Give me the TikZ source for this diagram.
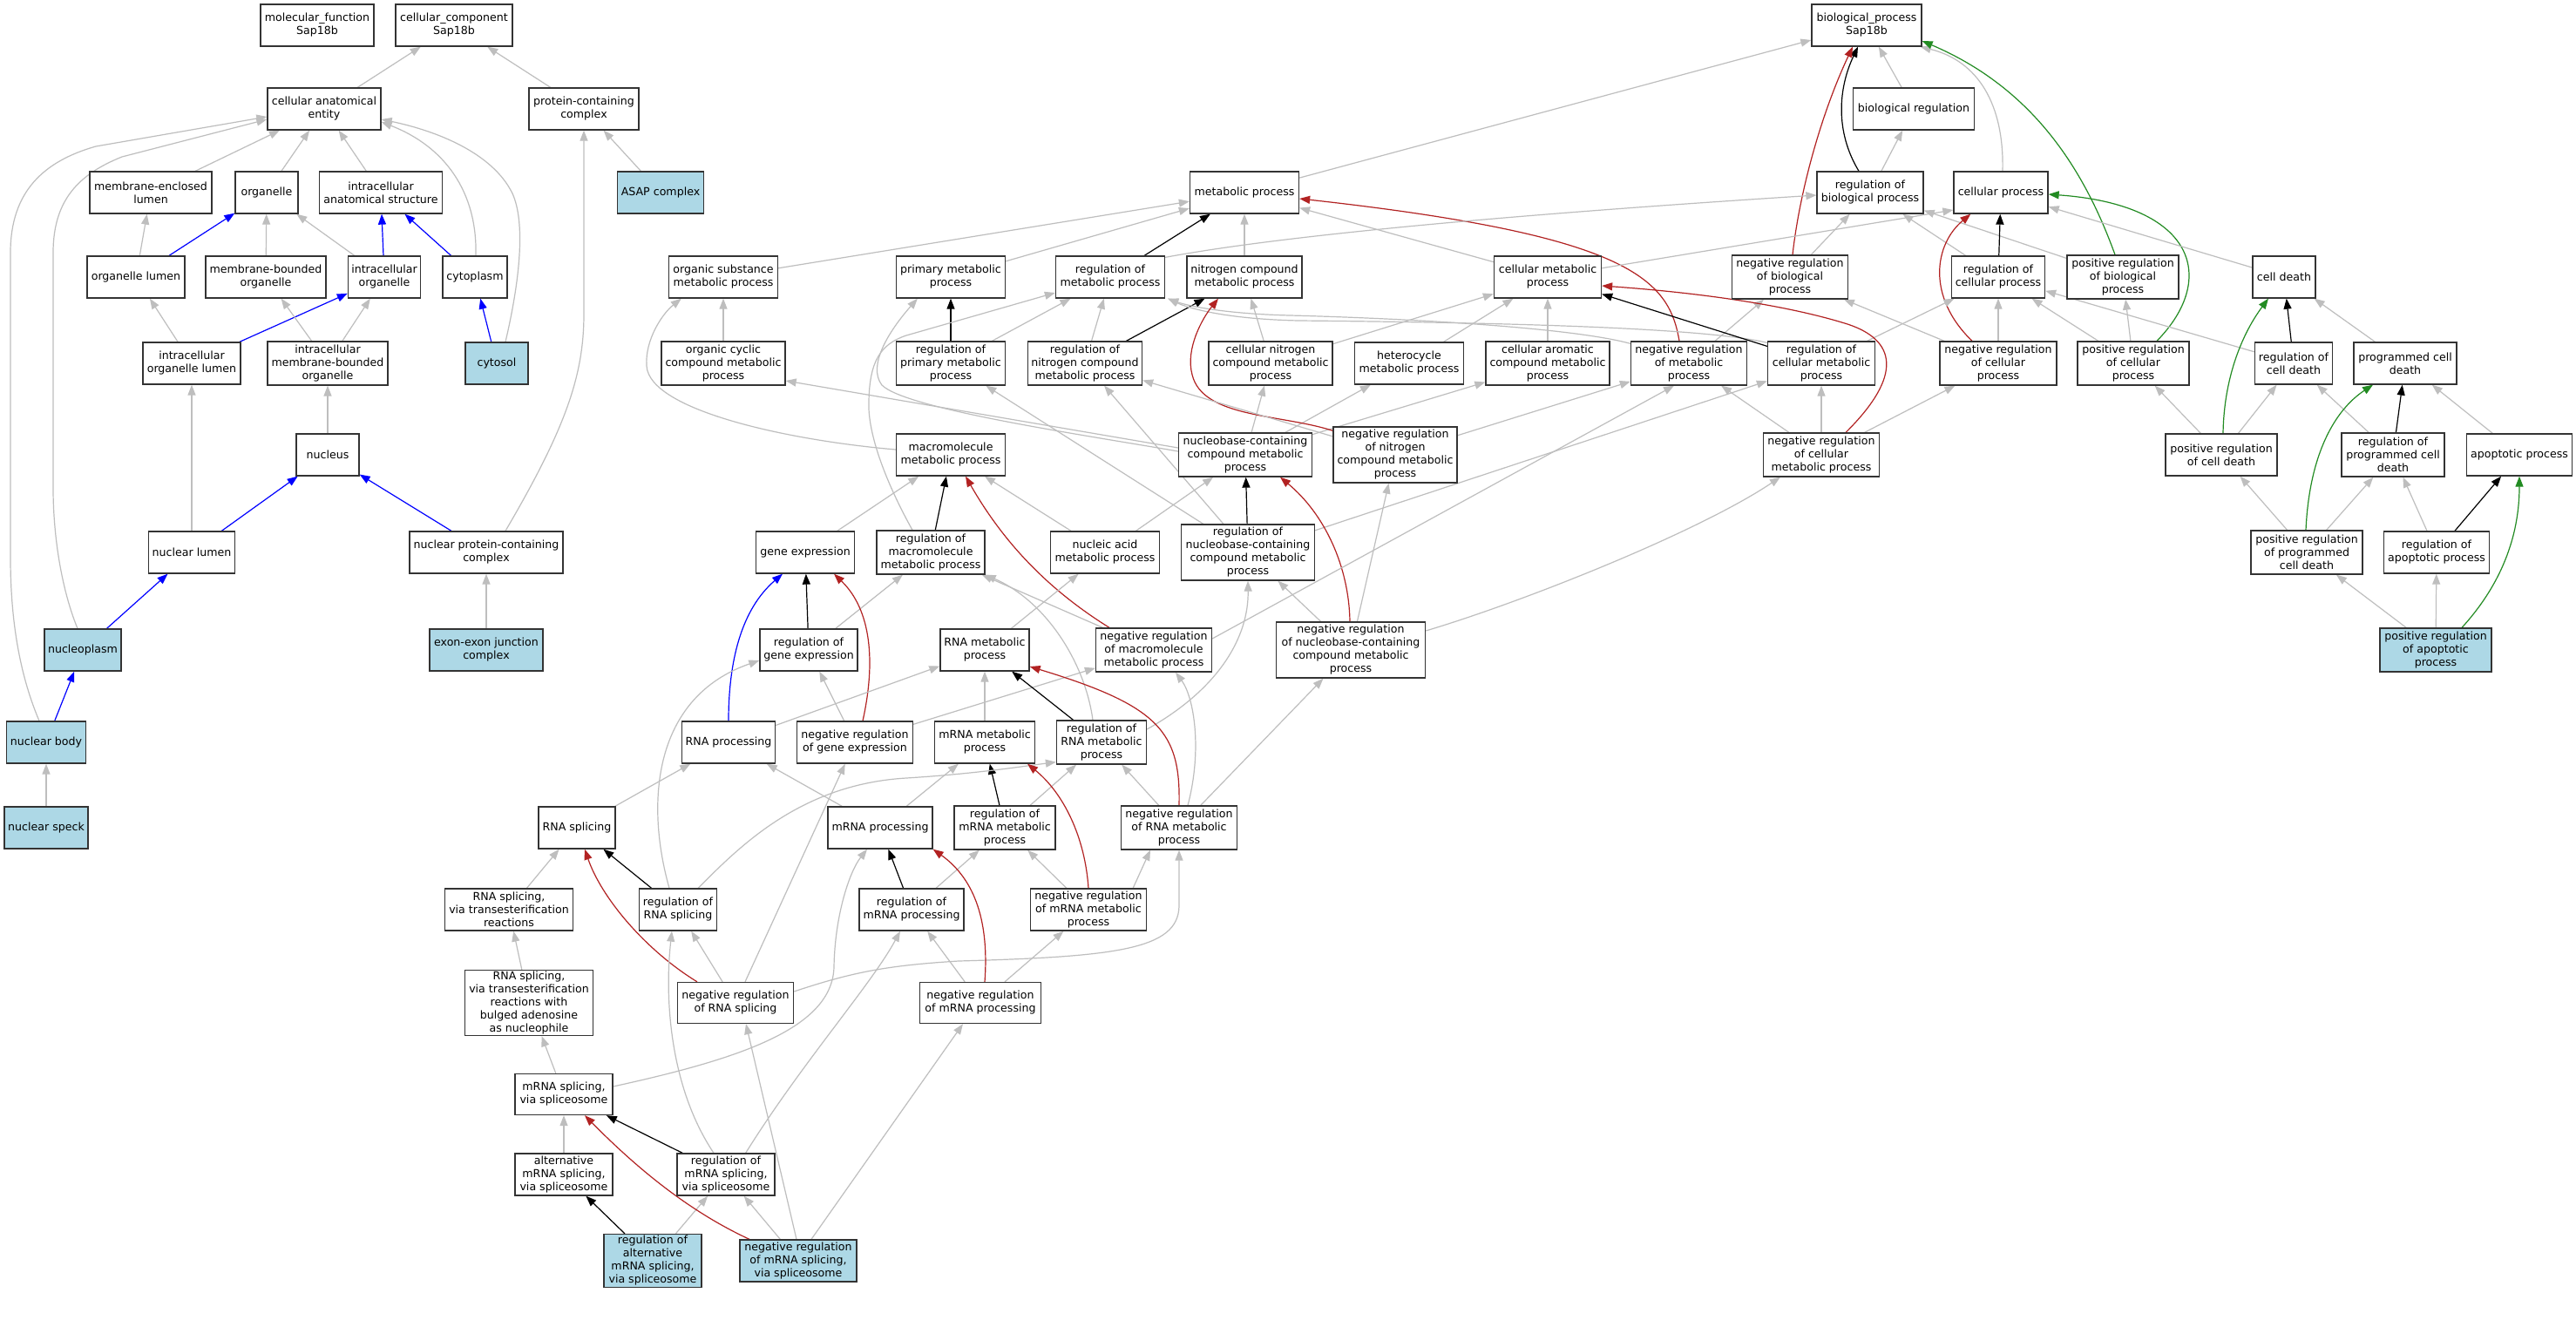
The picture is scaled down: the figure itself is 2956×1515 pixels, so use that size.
\documentclass[tikz,border=0pt]{standalone}
\usepackage{fontspec}
\setmainfont{DejaVu Sans}
\usetikzlibrary{arrows.meta,calc}
\pgfdeclarelayer{edgelayer}
\pgfsetlayers{edgelayer,main}
\definecolor{eggray}{RGB}{190,190,190}
\definecolor{lbfill}{RGB}{173,216,230}
\definecolor{fbred}{RGB}{178,34,34}
\definecolor{fggreen}{RGB}{34,139,34}
\newcommand\gofont{\fontsize{12.6}{15}\selectfont}
\newcommand\gn[7][]{\node[gobox,#1,minimum width=#5pt,minimum height=#6pt] (#2) at (#3,#4) {#7};}
\tikzset{
 gobox/.style={draw=black!80, line width=1.3pt, fill=white, align=center, inner sep=0pt, font=\gofont},
 hl/.style={fill=lbfill},
 edg/.style={line width=1.2pt, -{Triangle[length=12pt,width=9pt]}},
 eg/.style={edg, draw=eggray},
 ek/.style={edg, draw=black},
 eb/.style={edg, draw=blue},
 er/.style={edg, draw=fbred},
 egn/.style={edg, draw=fggreen}
}
\begin{document}
\begin{tikzpicture}[x=1pt,y=-1pt]
\useasboundingbox (0,0) rectangle (2956,1515);
% ---------- cellular component ----------
\gn{mf}{364}{29}{130}{48}{molecular\_function\\Sap18b}
\gn{cc}{521}{29}{134}{48}{cellular\_component\\Sap18b}
\gn{cae}{372}{125}{130}{48}{cellular anatomical\\entity}
\gn{pcc}{670}{125}{126}{48}{protein-containing\\complex}
\gn[hl]{asap}{758}{221}{99}{48}{ASAP complex}
\gn{mel}{173}{221}{140}{48}{membrane-enclosed\\lumen}
\gn{org}{306}{221}{72}{48}{organelle}
\gn{ias}{437}{221}{141}{48}{intracellular\\anatomical structure}
\gn{ol}{156}{318}{112}{48}{organelle lumen}
\gn{mbo}{305}{318}{138}{48}{membrane-bounded\\organelle}
\gn{io}{441}{318}{83}{48}{intracellular\\organelle}
\gn{cyto}{545}{318}{74}{48}{cytoplasm}
\gn{iol}{220}{417}{112}{48}{intracellular\\organelle lumen}
\gn{imbo}{376}{417}{138}{50}{intracellular\\membrane-bounded\\organelle}
\gn[hl]{cytosol}{570}{417}{72}{48}{cytosol}
\gn{nuc}{376}{522}{72}{48}{nucleus}
\gn{nl}{220}{634}{99}{48}{nuclear lumen}
\gn{npcc}{558}{634}{176}{48}{nuclear protein-containing\\complex}
\gn[hl]{np}{95}{746}{88}{48}{nucleoplasm}
\gn[hl]{ejc}{558}{746}{130}{48}{exon-exon junction\\complex}
\gn[hl]{nb}{53}{852}{91}{48}{nuclear body}
\gn[hl]{ns}{53}{950}{96}{48}{nuclear speck}
% ---------- biological process ----------
\gn{bp}{2142}{29}{126}{48}{biological\_process\\Sap18b}
\gn{breg}{2196}{125}{139}{48}{biological regulation}
\gn{rbp}{2146}{221}{122}{48}{regulation of\\biological process}
\gn{cp}{2296}{221}{108}{48}{cellular process}
\gn{mp}{1428}{221}{125}{48}{metabolic process}
\gn{osmp}{830}{318}{125}{48}{organic substance\\metabolic process}
\gn{pmp}{1091}{318}{125}{48}{primary metabolic\\process}
\gn{rmp}{1274}{318}{125}{48}{regulation of\\metabolic process}
\gn{ncmp}{1428}{318}{132}{48}{nitrogen compound\\metabolic process}
\gn{cmp}{1776}{318}{123}{48}{cellular metabolic\\process}
\gn{nrbp}{2054}{318}{133}{50}{negative regulation\\of biological\\process}
\gn{rcp}{2293}{318}{107}{48}{regulation of\\cellular process}
\gn{prbp}{2436}{318}{128}{50}{positive regulation\\of biological\\process}
\gn{cd}{2621}{318}{72}{48}{cell death}
\gn{occmp}{830}{417}{142}{50}{organic cyclic\\compound metabolic\\process}
\gn{rpmp}{1091}{417}{125}{50}{regulation of\\primary metabolic\\process}
\gn{rncmp}{1245}{417}{131}{50}{regulation of\\nitrogen compound\\metabolic process}
\gn{cncmp}{1458}{417}{142}{50}{cellular nitrogen\\compound metabolic\\process}
\gn{hmp}{1617}{417}{125}{48}{heterocycle\\metabolic process}
\gn{camp}{1776}{417}{142}{50}{cellular aromatic\\compound metabolic\\process}
\gn{nrmp}{1938}{417}{133}{50}{negative regulation\\of metabolic\\process}
\gn{rcmp}{2090}{417}{123}{50}{regulation of\\cellular metabolic\\process}
\gn{nrcp}{2293}{417}{134}{50}{negative regulation\\of cellular\\process}
\gn{prcp}{2448}{417}{128}{50}{positive regulation\\of cellular\\process}
\gn{rcd}{2632}{417}{89}{48}{regulation of\\cell death}
\gn{pcd}{2760}{417}{118}{48}{programmed cell\\death}
\gn{mmp}{1091}{522}{125}{48}{macromolecule\\metabolic process}
\gn{nbcmp}{1429}{522}{153}{50}{nucleobase-containing\\compound metabolic\\process}
\gn{nrncmp}{1601}{522}{142}{64}{negative regulation\\of nitrogen\\compound metabolic\\process}
\gn{nrcmp}{2090}{522}{133}{50}{negative regulation\\of cellular\\metabolic process}
\gn{prcd}{2549}{522}{128}{48}{positive regulation\\of cell death}
\gn{rpcd}{2746}{522}{118}{50}{regulation of\\programmed cell\\death}
\gn{ap}{2891}{522}{121}{48}{apoptotic process}
\gn{ge}{924}{634}{113}{48}{gene expression}
\gn{rmmp}{1068}{634}{124}{50}{regulation of\\macromolecule\\metabolic process}
\gn{nam}{1268}{634}{125}{48}{nucleic acid\\metabolic process}
\gn{rnbcmp}{1432}{634}{153}{64}{regulation of\\nucleobase-containing\\compound metabolic\\process}
\gn{prpcd}{2647}{634}{128}{50}{positive regulation\\of programmed\\cell death}
\gn{rap}{2796}{634}{121}{48}{regulation of\\apoptotic process}
\gn{rge}{928}{746}{112}{48}{regulation of\\gene expression}
\gn{rnamp}{1130}{746}{102}{48}{RNA metabolic\\process}
\gn{nrmmp}{1324}{746}{133}{50}{negative regulation\\of macromolecule\\metabolic process}
\gn{nrnbcmp}{1550}{746}{171}{64}{negative regulation\\of nucleobase-containing\\compound metabolic\\process}
\gn[hl]{prap}{2795}{746}{128}{50}{positive regulation\\of apoptotic\\process}
\gn{rnap}{836}{852}{107}{48}{RNA processing}
\gn{nrge}{981}{852}{133}{48}{negative regulation\\of gene expression}
\gn{mrnamp}{1130}{852}{115}{48}{mRNA metabolic\\process}
\gn{rrnamp}{1264}{852}{103}{50}{regulation of\\RNA metabolic\\process}
\gn{rs}{662}{950}{88}{48}{RNA splicing}
\gn{mrnap}{1010}{950}{120}{48}{mRNA processing}
\gn{rmrnamp}{1153}{950}{116}{50}{regulation of\\mRNA metabolic\\process}
\gn{nrrnamp}{1353}{950}{133}{50}{negative regulation\\of RNA metabolic\\process}
\gn{rsvt}{584}{1044}{147}{48}{RNA splicing,\\via transesterification\\reactions}
\gn{rrs}{778}{1044}{89}{48}{regulation of\\RNA splicing}
\gn{rmrnap}{1046}{1044}{120}{48}{regulation of\\mRNA processing}
\gn{nrmrnamp}{1249}{1044}{133}{48}{negative regulation\\of mRNA metabolic\\process}
\gn{rsvtb}{607}{1151}{147}{75}{RNA splicing,\\via transesterification\\reactions with\\bulged adenosine\\as nucleophile}
\gn{nrrs}{844}{1151}{133}{47}{negative regulation\\of RNA splicing}
\gn{nrmrnap}{1125}{1151}{139}{47}{negative regulation\\of mRNA processing}
\gn{msvs}{647}{1256}{112}{47}{mRNA splicing,\\via spliceosome}
\gn{amsvs}{647}{1348}{112}{48}{alternative\\mRNA splicing,\\via spliceosome}
\gn{rmsvs}{833}{1348}{112}{48}{regulation of\\mRNA splicing,\\via spliceosome}
\gn[hl]{ramsvs}{749}{1447}{112}{61}{regulation of\\alternative\\mRNA splicing,\\via spliceosome}
\gn[hl]{nrmsvs}{916}{1447}{134}{48}{negative regulation\\of mRNA splicing,\\via spliceosome}

\begin{pgfonlayer}{edgelayer}
\fill[white] (0,0) rectangle (2956,1515);
% ================= edges: cellular component =================
\draw[eg] (cae) -- (cc);
\draw[eg] (pcc) -- (cc);
\draw[eg] (asap) -- (pcc);
\draw[eg] (mel) -- (cae);
\draw[eg] (org) -- (cae);
\draw[eg] (ias) -- (cae);
\draw[eg] ($(cyto.north)+(1,0)$) .. controls (548,220) and (510,168) .. ($(cae.east)+(0,15)$);
\draw[eg] ($(cytosol.north)+(10,0)$) .. controls (597,320) and (603,255) .. (588,222) .. controls (565,175) and (500,150) .. ($(cae.east)+(0,12)$);
\draw[eg] ($(np.north)+(-6,0)$) .. controls (72,680) and (61,620) .. (61,560) -- (61,290) .. controls (61,230) and (90,200) .. (140,180) -- ($(cae.west)+(0,12)$);
\draw[eg] ($(nb.north)+(-8,0)$) .. controls (25,780) and (12,720) .. (12,640) -- (12,290) .. controls (12,220) and (50,185) .. (110,168) -- ($(cae.west)+(0,9)$);
\draw[eg] (ol) -- (mel);
\draw[eb] (ol) -- (org);
\draw[eg] (mbo) -- (org);
\draw[eg] (io) -- (org);
\draw[eb] (io) -- (ias);
\draw[eb] (cyto) -- (ias);
\draw[eg] (iol) -- (ol);
\draw[eb] (iol) -- (io);
\draw[eg] (imbo) -- (mbo);
\draw[eg] (imbo) -- (io);
\draw[eb] (cytosol) -- (cyto);
\draw[eg] (nuc) -- (imbo);
\draw[eg] (nl) -- (iol);
\draw[eb] (nl) -- (nuc);
\draw[eb] (npcc) -- (nuc);
\draw[eg] ($(npcc.north)+(22,0)$) .. controls (650,490) and (670,430) .. (670,360) -- (pcc.south);
\draw[eg] (ejc) -- (npcc);
\draw[eb] (np) -- (nl);
\draw[eb] (nb) -- (np);
\draw[eg] (ns) -- (nb);

% ================= edges: biological process top =================
\draw[eg] (mp) -- (bp);
\draw[eg] (breg) -- (bp);
\draw[ek] ($(rbp.north)+(-13,0)$) .. controls (2105,150) and (2110,100) .. ($(bp.south)+(-10,0)$);
\draw[eg] (rbp) -- (breg);
\draw[er] ($(nrbp.north)+(3,0)$) .. controls (2065,220) and (2090,130) .. ($(bp.south)+(-16,0)$);
\draw[eg] ($(cp.north)+(2,0)$) .. controls (2300,120) and (2270,70) .. ($(bp.south east)+(-2,0)$);
\draw[egn] ($(prbp.north)+(-9,0)$) .. controls (2390,190) and (2330,100) .. ($(bp.east)+(0,18)$);

\draw[eg] (osmp) -- (mp);
\draw[eg] (pmp) -- (mp);
\draw[ek] (rmp) -- (mp);
\draw[eg] (ncmp) -- (mp);
\draw[eg] (cmp) -- (mp);
\draw[er] ($(nrmp.north)+(-11,0)$) .. controls (1915,320) and (1870,270) .. ($(mp.east)+(0,7)$);
\draw[eg] ($(rmp.north east)+(0,2)$) .. controls (1420,280) and (1600,255) .. ($(rbp.west)+(0,3)$);
\draw[eg] (nrbp) -- (rbp);
\draw[eg] (rcp) -- (rbp);
\draw[eg] (prbp) -- (rbp);
\draw[eg] (cmp) -- ($(cp.west)+(0,20)$);
\draw[ek] (rcp) -- (cp);
\draw[er] ($(nrcp.north)+(-30,0)$) .. controls (2210,340) and (2220,280) .. ($(cp.south west)+(20,0)$);
\draw[egn] ($(prcp.north)+(27,0)$) .. controls (2545,320) and (2520,235) .. ($(cp.east)+(0,2)$);
\draw[eg] (cd) -- (cp);

% row 3
\draw[eg] (occmp) -- (osmp);
\draw[ek] (rpmp) -- (pmp);
\draw[eg] (rpmp) -- (rmp);
\draw[eg] (rncmp) -- (rmp);
\draw[ek] (rncmp) -- (ncmp);
\draw[eg] (cncmp) -- (ncmp);
\draw[eg] (cncmp) -- (cmp);
\draw[eg] (hmp) -- (cmp);
\draw[eg] (camp) -- (cmp);
\draw[eg] (nrmp) -- (nrbp);
\draw[eg] ($(nrmp.north west)+(0,3)$) .. controls (1800,375) and (1600,365) .. (1480,362) .. controls (1400,360) and (1360,350) .. ($(rmp.south east)+(3,0)$);
\draw[eg] ($(rcmp.north west)+(0,2)$) .. controls (1950,375) and (1700,370) .. (1490,368) .. controls (1400,366) and (1360,352) .. ($(rmp.south east)+(3,0)$);
\draw[ek] (rcmp) -- (cmp);
\draw[eg] (rcmp) -- (rcp);
\draw[eg] (nrcp) -- (rcp);
\draw[eg] (nrcp) -- (nrbp);
\draw[eg] (prcp) -- (rcp);
\draw[eg] (prcp) -- (prbp);
\draw[ek] (rcd) -- (cd);
\draw[eg] (rcd) -- (rcp);
\draw[eg] (pcd) -- (cd);

% row 4
\draw[eg] ($(mmp.west)+(0,-6)$) .. controls (900,505) and (745,470) .. (742,420) .. controls (740,390) and (760,360) .. ($(osmp.south west)+(15,0)$);
\draw[eg] ($(nbcmp.west)+(0,-8)$) -- ($(occmp.east)+(0,20)$);
\draw[eg] ($(nbcmp.west)+(0,-4)$) .. controls (1250,500) and (1040,470) .. (1012,442) .. controls (995,420) and (1020,380) .. ($(pmp.south west)+(25,0)$);
\draw[eg] (nbcmp) -- (cncmp);
\draw[eg] (nbcmp) -- (hmp);
\draw[eg] (nbcmp) -- (camp);
\draw[er] ($(nrncmp.north west)+(0,5)$) .. controls (1470,475) and (1380,480) .. (1368,430) .. controls (1360,400) and (1380,365) .. ($(ncmp.south)+(-30,0)$);
\draw[eg] (nrncmp) -- (rncmp);
\draw[eg] (nrncmp) -- (nrmp);
\draw[eg] (nrcmp) -- (nrmp);
\draw[eg] (nrcmp) -- (rcmp);
\draw[eg] (nrcmp) -- (nrcp);
\draw[er] ($(nrcmp.north)+(28,0)$) .. controls (2185,430) and (2175,390) .. (2120,372) .. controls (2050,350) and (1950,336) .. ($(cmp.east)+(0,10)$);
\draw[egn] ($(prcd.north)+(2,0)$) .. controls (2552,430) and (2575,380) .. ($(cd.south)+(-18,0)$);
\draw[eg] (prcd) -- (rcd);
\draw[eg] (prcd) -- (prcp);
\draw[ek] (rpcd) -- (pcd);
\draw[eg] (rpcd) -- (rcd);
\draw[eg] (ap) -- (pcd);

% row 5
\draw[eg] (ge) -- (mmp);
\draw[ek] (rmmp) -- (mmp);
\draw[eg] ($(rmmp.north)+(-21,0)$) .. controls (1020,560) and (995,500) .. (997,460) .. controls (998,415) and (1010,395) .. (1040,385) -- ($(rmp.west)+(0,18)$);
\draw[eg] (nam) -- (mmp);
\draw[eg] (nam) -- (nbcmp);
\draw[ek] (rnbcmp) -- (nbcmp);
\draw[eg] (rnbcmp) -- (rpmp);
\draw[eg] (rnbcmp) -- (rncmp);
\draw[eg] (rnbcmp) -- (rcmp);
\draw[egn] ($(prpcd.north)+(-1,0)$) .. controls (2650,520) and (2680,470) .. ($(pcd.south)+(-37,0)$);
\draw[eg] (prpcd) -- (prcd);
\draw[eg] (prpcd) -- (rpcd);
\draw[eg] (rap) -- (rpcd);
\draw[ek] (rap) -- (ap);

% row 6
\draw[er] ($(nrnbcmp.north)+(-1,0)$) .. controls (1548,650) and (1520,590) .. ($(nbcmp.south)+(40,0)$);
\draw[eg] (nrnbcmp) -- (rnbcmp);
\draw[eg] (nrnbcmp) -- (nrncmp);
\draw[eg] ($(nrnbcmp.east)+(0,-22)$) .. controls (1750,690) and (1950,610) .. ($(nrcmp.south west)+(20,0)$);
\draw[eg] (prap) -- (prpcd);
\draw[eg] (prap) -- (rap);
\draw[egn] ($(prap.north)+(30,0)$) .. controls (2880,660) and (2891,600) .. (ap.south);
\draw[ek] (rge) -- (ge);
\draw[eg] (rge) -- (rmmp);
\draw[eg] (nrmmp) -- (rmmp);
\draw[er] ($(nrmmp.north)+(-51,0)$) .. controls (1200,675) and (1150,620) .. ($(mmp.south)+(17,0)$);
\draw[eg] ($(nrmmp.east)+(0,-13)$) -- ($(nrmp.south)+(-17,0)$);
\draw[eg] (rnamp) -- (nam);

% row 7
\draw[eb] (rnap.north) .. controls (836,760) and (850,700) .. ($(ge.south)+(-26,0)$);
\draw[er] ($(nrge.north)+(9,0)$) .. controls (1005,760) and (1000,700) .. ($(ge.south)+(33,0)$);
\draw[eg] (nrge) -- (rge);
\draw[eg] (nrge) -- (nrmmp);
\draw[eg] (rnap) -- (rnamp);
\draw[eg] (mrnamp) -- (rnamp);
\draw[ek] (rrnamp) -- (rnamp);
\draw[eg] ($(rrnamp.north)+(-10,0)$) .. controls (1245,760) and (1200,690) .. (rmmp.south east);
\draw[eg] ($(rrnamp.east)+(0,-15)$) .. controls (1400,790) and (1433,730) .. (rnbcmp.south);

% row 8
\draw[er] (nrrnamp.north) .. controls (1355,840) and (1330,810) .. ($(rnamp.east)+(0,19)$);
\draw[eg] (nrrnamp) -- (rrnamp);
\draw[eg] ($(nrrnamp.north)+(10,0)$) .. controls (1380,860) and (1370,800) .. ($(nrmmp.south)+(25,0)$);
\draw[eg] (nrrnamp) -- (nrnbcmp);
\draw[eg] (rs) -- (rnap);
\draw[eg] (mrnap) -- (rnap);
\draw[eg] (mrnap) -- (mrnamp);
\draw[ek] (rmrnamp) -- (mrnamp);
\draw[eg] (rmrnamp) -- (rrnamp);

% row 9
\draw[eg] (rsvt) -- (rs);
\draw[ek] (rrs) -- (rs);
\draw[eg] ($(rrs.north)+(-10,0)$) .. controls (740,920) and (750,800) .. ($(rge.west)+(0,12)$);
\draw[eg] ($(rrs.north east)+(-22,0)$) .. controls (850,970) and (920,900) .. (1040,893) .. controls (1120,888) and (1170,880) .. ($(rrnamp.south west)+(0,-3)$);
\draw[ek] (rmrnap) -- (mrnap);
\draw[eg] (rmrnap) -- (rmrnamp);
\draw[eg] (nrmrnamp) -- (rmrnamp);
\draw[er] (nrmrnamp.north) .. controls (1245,960) and (1220,910) .. ($(mrnamp.south)+(49,0)$);
\draw[eg] ($(nrmrnamp.north east)+(-16,0)$) -- ($(nrrnamp.south)+(-33,0)$);

% row 10
\draw[eg] (rsvtb) -- (rsvt);
\draw[er] ($(nrrs.north)+(-44,0)$) .. controls (740,1090) and (690,1030) .. ($(rs.south)+(9,0)$);
\draw[eg] (nrrs) -- (rrs);
\draw[eg] (nrrs) -- (nrge);
\draw[eg] ($(nrrs.east)+(0,-13)$) .. controls (980,1115) and (1020,1108) .. (1100,1103) .. controls (1280,1098) and (1352,1090) .. (1353,1040) -- (nrrnamp.south);
\draw[eg] (nrmrnap) -- (rmrnap);
\draw[er] ($(nrmrnap.north)+(5,0)$) .. controls (1135,1060) and (1120,1010) .. (mrnap.south east);
\draw[eg] (nrmrnap) -- (nrmrnamp);

% row 11-13
\draw[eg] (msvs) -- (rsvtb);
\draw[eg] ($(msvs.east)+(0,-9)$) .. controls (850,1215) and (955,1180) .. (957,1110) .. controls (958,1050) and (975,1000) .. ($(mrnap.south)+(-15,0)$);
\draw[eg] (amsvs) -- (msvs);
\draw[ek] (rmsvs) -- (msvs);
\draw[eg] ($(rmsvs.north)+(-14,0)$) .. controls (770,1250) and (762,1150) .. ($(rrs.south)+(-7,0)$);
\draw[eg] ($(rmsvs.north east)+(-34,0)$) .. controls (920,1220) and (1000,1130) .. ($(rmrnap.south)+(-13,0)$);
\draw[ek] (ramsvs) -- (amsvs);
\draw[eg] (ramsvs) -- (rmsvs);
\draw[er] ($(nrmsvs.north)+(-56,0)$) .. controls (790,1390) and (730,1340) .. ($(msvs.south)+(24,0)$);
\draw[eg] (nrmsvs) -- (rmsvs);
\draw[eg] ($(nrmsvs.north)+(-2,0)$) -- ($(nrrs.south)+(12,0)$);
\draw[eg] ($(nrmsvs.north)+(15,0)$) -- ($(nrmrnap.south)+(-20,0)$);
\end{pgfonlayer}
\end{tikzpicture}
\end{document}
